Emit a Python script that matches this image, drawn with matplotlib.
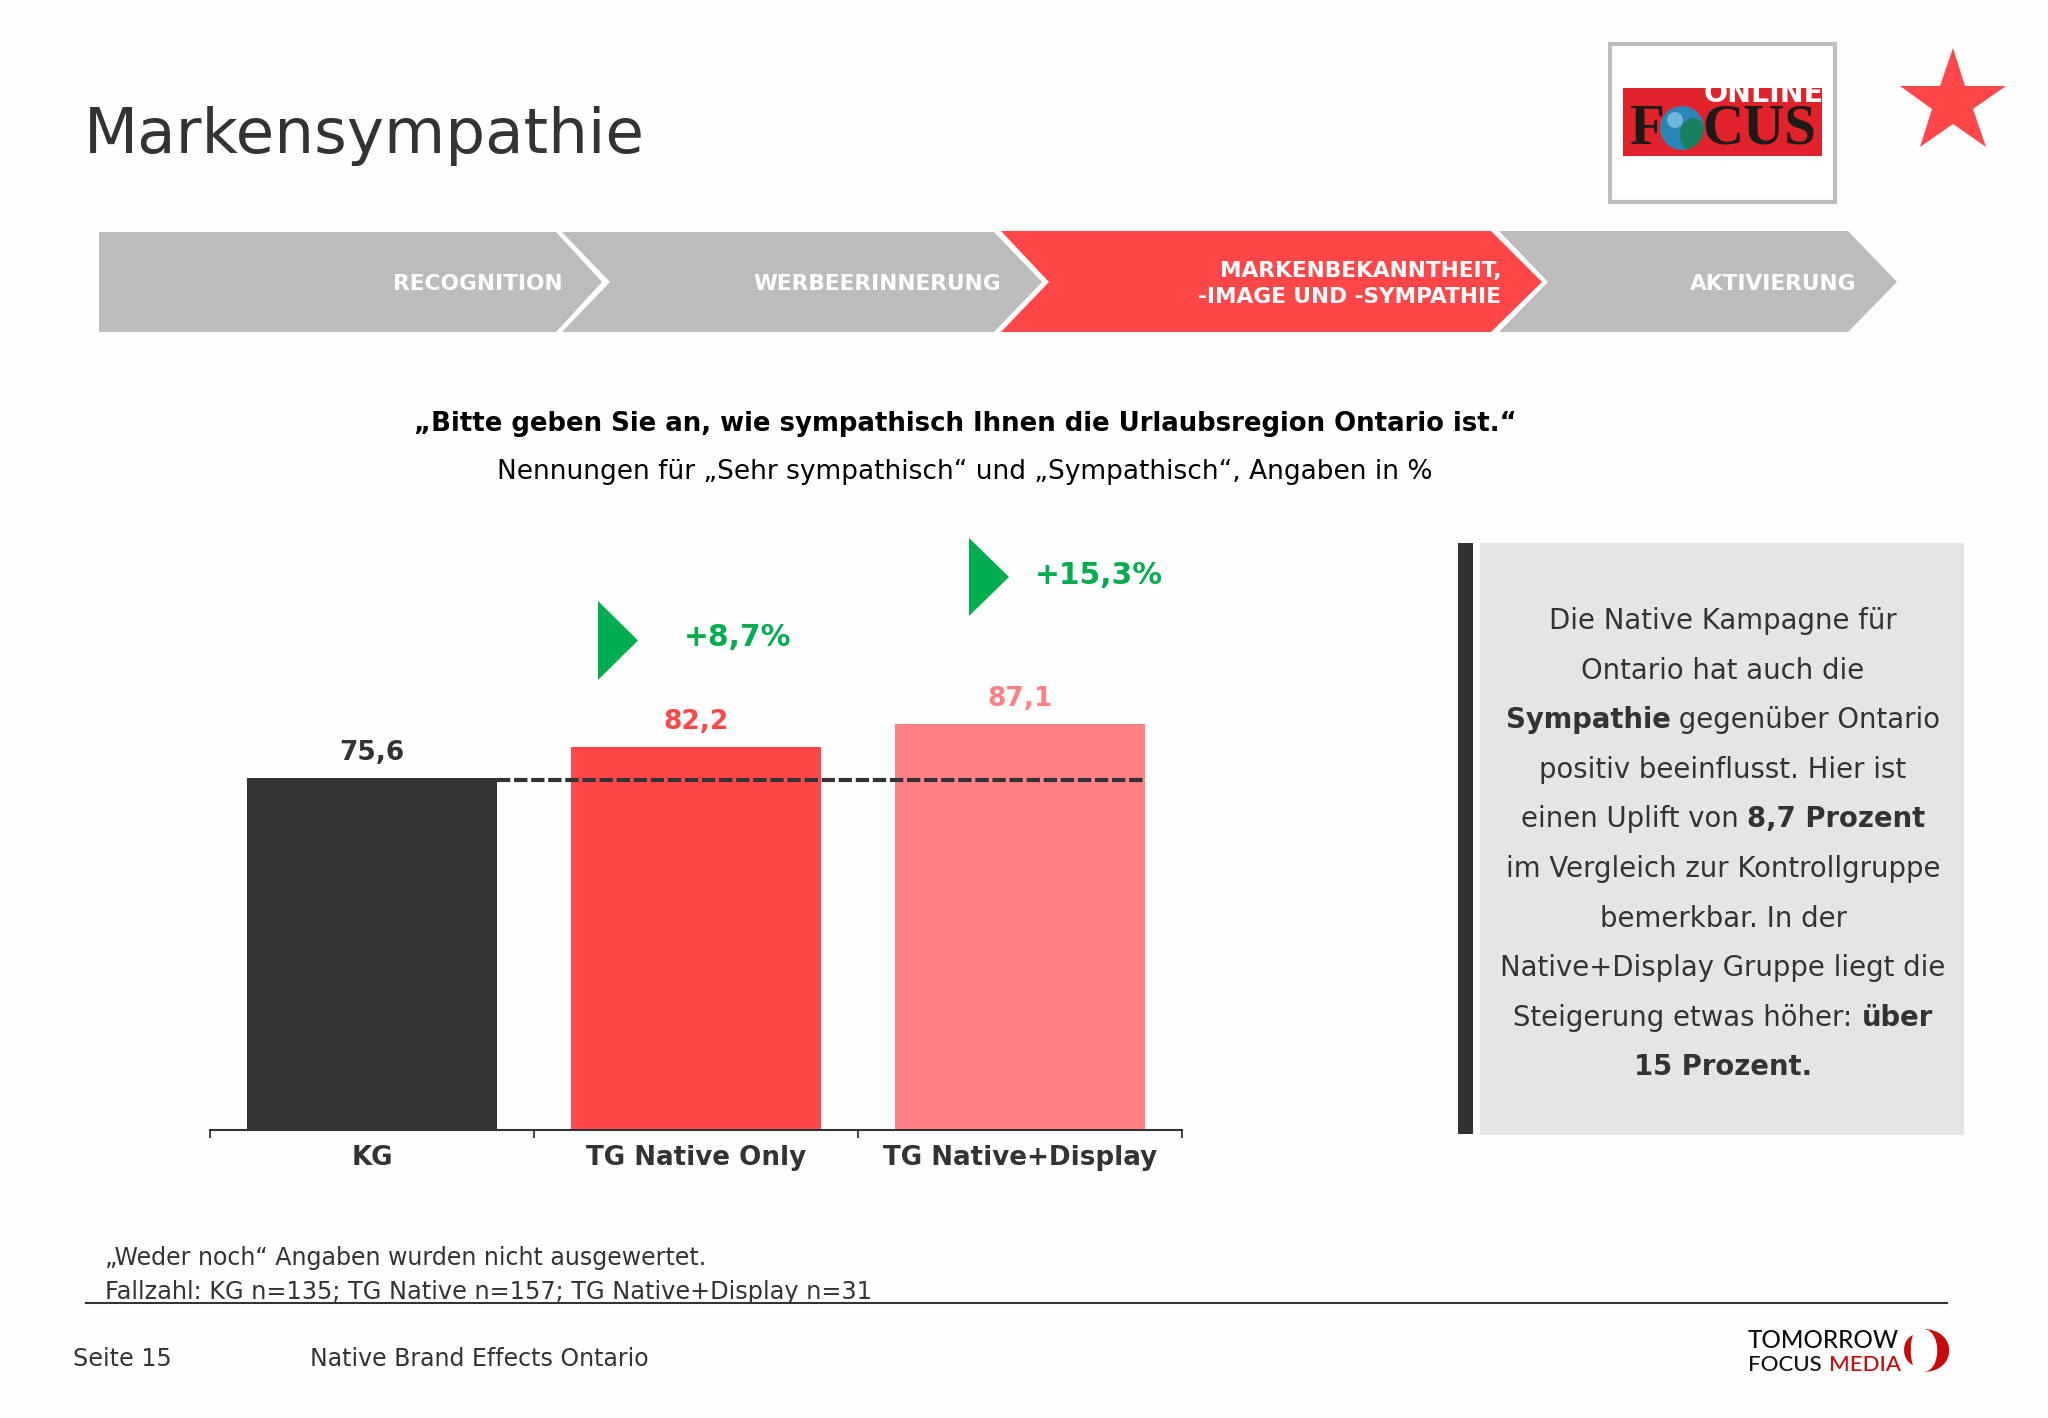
# Markensympathie Folie nachbauen
import matplotlib
matplotlib.use('Agg')
import matplotlib.pyplot as plt
from matplotlib.patches import Polygon, Rectangle, Circle, PathPatch, Ellipse
from matplotlib.path import Path

W, H = 2048, 1418
DARK = '#333333'
RED = '#ff474a'
PINK = '#ff8186'
GRAY = '#bcbcbd'
GREEN = '#00ae4f'

# daten
categories = ['KG', 'TG Native Only', 'TG Native+Display']
values = [75.6, 82.2, 87.1]
value_labels = ['75,6', '82,2', '87,1']
bar_colors = [DARK, RED, PINK]
reference_level = 75.2
uplifts = ['+8,7%', '+15,3%']

steps = ['RECOGNITION', 'WERBEERINNERUNG', 'MARKENBEKANNTHEIT,\n-IMAGE UND -SYMPATHIE', 'AKTIVIERUNG']

panel_lines = [
    [('Die Native Kampagne für', False)],
    [('Ontario hat auch die', False)],
    [('Sympathie', True), (' gegenüber Ontario', False)],
    [('positiv beeinflusst. Hier ist', False)],
    [('einen Uplift von ', False), ('8,7 Prozent', True)],
    [('im Vergleich zur Kontrollgruppe', False)],
    [('bemerkbar. In der', False)],
    [('Native+Display Gruppe liegt die', False)],
    [('Steigerung etwas höher: ', False), ('über', True)],
    [('15 Prozent.', True)],
]

plt.rcParams['font.family'] = ['DejaVu Sans']
fig = plt.figure(figsize=(W / 100, H / 100), dpi=100, facecolor='#fefefe')

# overlay in pixeln
bg = fig.add_axes([0, 0, 1, 1])
bg.set_xlim(0, W)
bg.set_ylim(H, 0)
bg.axis('off')

bg.text(84, 136, 'Markensympathie', fontsize=45.2, color=DARK, va='center', ha='left')

# pfeilkette
chevrons = [
    ([(99, 232), (556, 232), (602, 282), (556, 332), (99, 332)], GRAY),
    ([(562, 232), (994, 232), (1042, 282), (994, 332), (562, 332), (610, 282)], GRAY),
    ([(1001, 231), (1491, 231), (1542, 282), (1491, 332), (1001, 332), (1049, 282)], RED),
    ([(1499, 231), (1848, 231), (1897, 282), (1848, 332), (1499, 332), (1548, 282)], GRAY),
]
for pts, col in chevrons:
    bg.add_patch(Polygon(pts, closed=True, fc=col, ec='none'))

step_right = [563, 1001, 1501, 1856]
for s, xr in zip(steps, step_right):
    bg.text(xr, 284, s, fontsize=15.6, fontweight='bold', color='white', ha='right', va='center',
            linespacing=1.35, multialignment='right')

# frage
bg.text(965, 424, '„Bitte geben Sie an, wie sympathisch Ihnen die Urlaubsregion Ontario ist.“',
        fontsize=18.7, fontweight='bold', color='black', ha='center', va='center')
bg.text(965, 472, 'Nennungen für „Sehr sympathisch“ und „Sympathisch“, Angaben in %',
        fontsize=19, color='black', ha='center', va='center')

# balken
ax = fig.add_axes([210 / W, 1 - 1130 / H, (1182 - 210) / W, 465.6 / H])
ax.patch.set_alpha(0)
x = list(range(len(categories)))
ax.bar(x, values, width=0.77, color=bar_colors)
ax.set_xlim(-0.5, 2.5)
ax.set_ylim(0, 100)
ax.hlines(reference_level, 0.385, 2.385, colors=DARK, linestyles=(0, (3.2, 0.9)), linewidth=3)
for i, v in enumerate(values):
    ax.annotate(value_labels[i], (i, v), xytext=(0, 18), textcoords='offset points', ha='center', va='center',
                fontsize=19, fontweight='bold', color=bar_colors[i], clip_on=False)
for s in ['top', 'left', 'right']:
    ax.spines[s].set_visible(False)
ax.spines['bottom'].set_color(DARK)
ax.spines['bottom'].set_linewidth(1.5)
ax.set_yticks([])
ax.set_xticks(x)
ax.set_xticklabels(categories, fontsize=18.8, fontweight='bold', color=DARK)
ax.tick_params(axis='x', which='major', length=0, pad=11)
ax.set_xticks([-0.5, 0.5, 1.5, 2.5], minor=True)
ax.tick_params(axis='x', which='minor', length=5.5, width=1.3, color=DARK)

# uplift pfeile
for (x0, y0, y1, xt, yt), lab in zip([(598, 601, 680, 738, 638), (969, 538, 616, 1099, 576)], uplifts):
    bg.add_patch(Polygon([(x0, y0), (x0 + 40, (y0 + y1) / 2), (x0, y1)], closed=True, fc=GREEN, ec='none'))
    bg.text(xt, yt, lab, fontsize=21.4, fontweight='bold', color=GREEN, ha='center', va='center')

# kasten rechts
bg.add_patch(Rectangle((1458, 543), 15, 591, fc='#333133', ec='none'))
bg.add_patch(Rectangle((1480, 543), 484, 592, fc='#e6e5e6', ec='none'))

renderer = fig.canvas.get_renderer()
for n, parts in enumerate(panel_lines):
    y = 618 + n * 49.6
    arts = []
    for txt, bold in parts:
        # leerzeichen am rand zaehlen sonst nicht mit
        arts.append(bg.text(0, y, txt.replace(' ', '\u00a0'), fontsize=19.85, fontweight='bold' if bold else 'normal',
                            color=DARK, ha='left', va='center_baseline'))
    widths = [a.get_window_extent(renderer).width for a in arts]
    left = 1723 - sum(widths) / 2
    for a, w in zip(arts, widths):
        a.set_x(left)
        left += w

# fussnoten
bg.text(105, 1258, '„Weder noch“ Angaben wurden nicht ausgewertet.', fontsize=17.1, color=DARK, va='center')
bg.text(105, 1292, 'Fallzahl: KG n=135; TG Native n=157; TG Native+Display n=31', fontsize=17.3, color=DARK, va='center')
bg.plot([86, 1947], [1303, 1303], color=DARK, lw=1.5)
bg.text(73, 1359, 'Seite 15', fontsize=17.2, color=DARK, va='center')
bg.text(310, 1359, 'Native Brand Effects Ontario', fontsize=17, color=DARK, va='center')

# focus logo
bg.add_patch(Rectangle((1610, 44), 225, 158, fc='white', ec='#bdbdbd', lw=3))
bg.add_patch(Rectangle((1623, 88), 199, 68, fc='#e2222a', ec='none'))
bg.text(1824, 94, 'ONLINE', fontsize=20.5, fontweight='bold', color='white', ha='right', va='center')
bg.text(1630, 130, 'F', family='Liberation Serif', fontsize=41, fontweight='bold', color='#1d1a1a', ha='left', va='center')
bg.text(1816, 130, 'CUS', family='Liberation Serif', fontsize=41, fontweight='bold', color='#1d1a1a', ha='right', va='center')
globe = Circle((1682, 128), 22, fc='#2a86b8', ec='none')
bg.add_patch(globe)
land = Ellipse((1693, 135), 26, 34, fc='#17805f', ec='none')
bg.add_patch(land)
land.set_clip_path(globe)
glow = Circle((1675, 120), 8, fc='#6fb6dc', ec='none')
bg.add_patch(glow)

# stern
star = [(1953, 48), (1965, 86), (2006, 86), (1973, 109), (1986, 147), (1953, 124), (1920, 147), (1932, 109), (1900, 86), (1940, 86)]
bg.add_patch(Polygon(star, closed=True, fc=RED, ec='none'))

# tomorrow focus logo
bg.text(1748, 1340, 'TOMORROW', family='Lato', fontsize=17.5, fontweight='medium', color='#111111', ha='left', va='center')
bg.text(1748, 1365, 'FOCUS', family='Lato', fontsize=16, fontweight='medium', color='#111111', ha='left', va='center')
bg.text(1901, 1365, 'MEDIA', family='Lato', fontsize=16, fontweight='medium', color='#c70a0a', ha='right', va='center')
code4 = [Path.MOVETO, Path.CURVE4, Path.CURVE4, Path.CURVE4, Path.CURVE4, Path.CURVE4, Path.CURVE4, Path.CLOSEPOLY]
right_moon = Path([(1923, 1329), (1958, 1329), (1958, 1372), (1923, 1372), (1942, 1372), (1942, 1329), (1923, 1329), (1923, 1329)], code4)
left_moon = Path([(1913, 1335), (1901, 1340), (1901, 1360), (1913, 1365), (1910, 1358), (1910, 1342), (1913, 1335), (1913, 1335)], code4)
bg.add_patch(PathPatch(right_moon, fc='#c70a0a', ec='none'))
bg.add_patch(PathPatch(left_moon, fc='#c70a0a', ec='none'))

fig.savefig('out.png', dpi=100, facecolor=fig.get_facecolor())
